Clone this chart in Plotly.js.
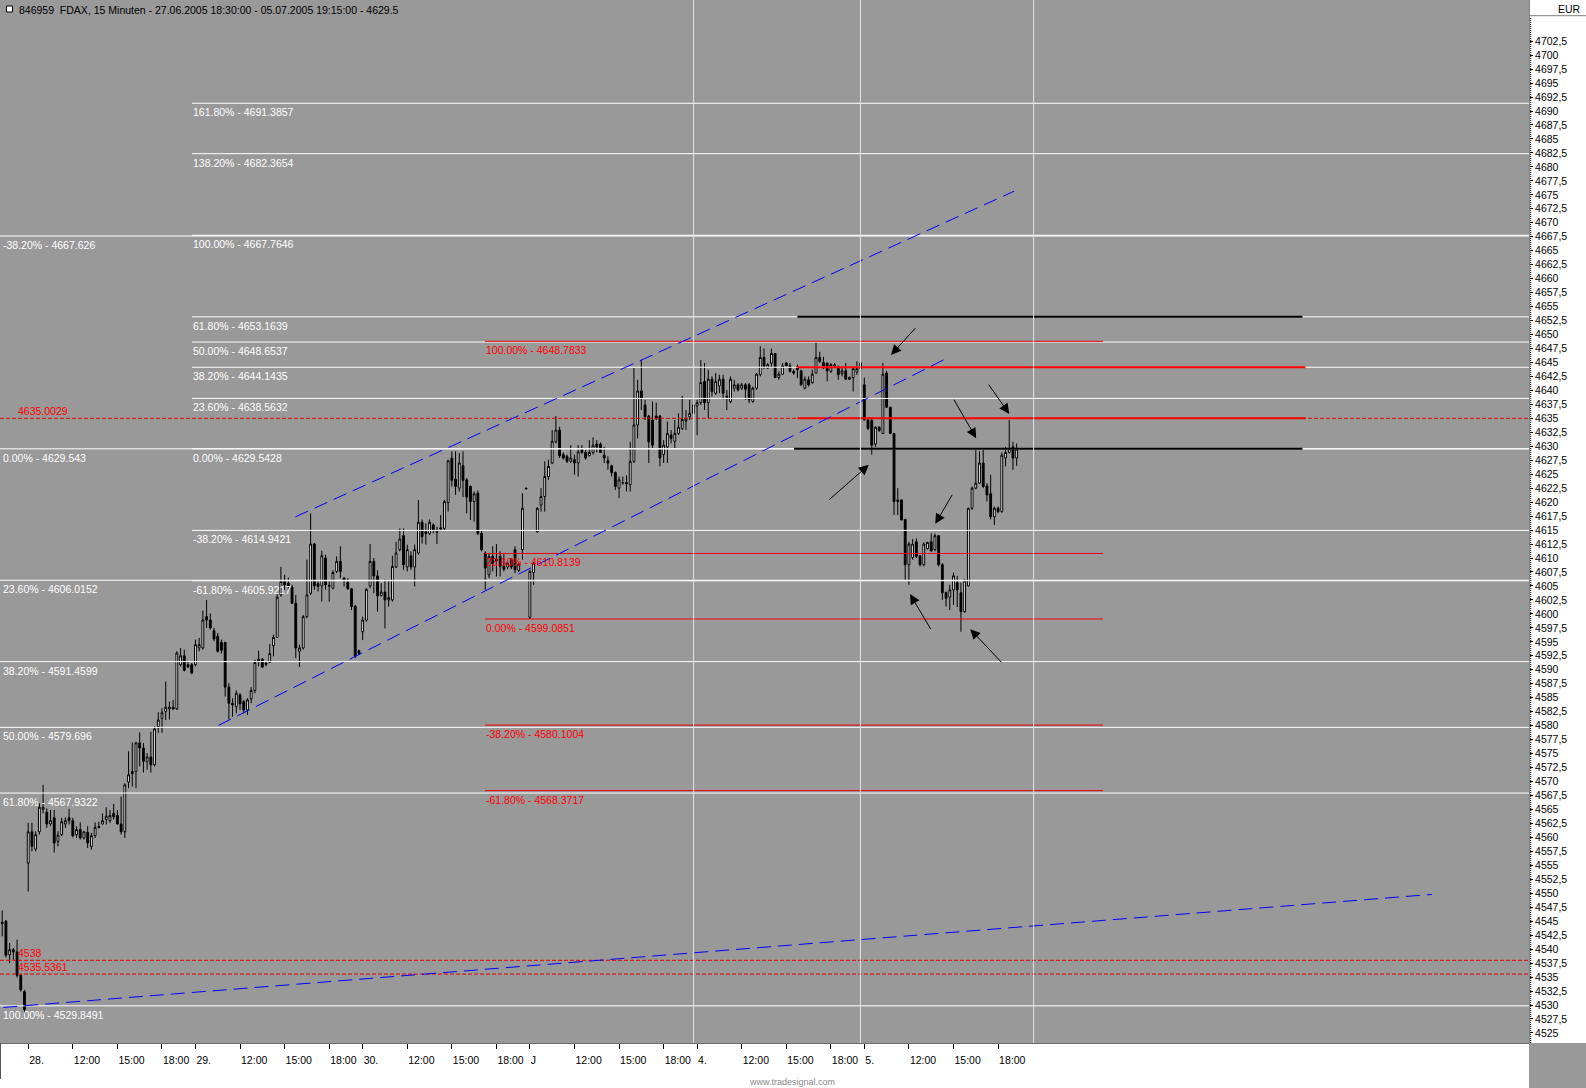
<!DOCTYPE html>
<html>
<head>
<meta charset="utf-8">
<script src="https://cdn.plot.ly/plotly-3.0.1.min.js"></script>
<style>
  html, body { margin: 0; padding: 0; background: #fff; }
  #chart { width: 1586px; height: 1088px; }
</style>
</head>
<body>
<div id="chart"></div>
<script>
// FDAX 15 min bars, 27.06.2005 18:30 - 05.07.2005 19:15 (45 bars per session)
const opens = [
  4544.8, 4545.0, 4539.0, 4539.9, 4539.5, 4535.3, 4532.4, 4555.4, 4561.0, 4557.9,
  4561.0, 4565.0, 4564.5, 4562.4, 4563.5, 4559.3, 4560.5, 4562.4, 4563.5, 4563.0,
  4560.5, 4561.4, 4559.9, 4560.9, 4558.4, 4560.3, 4561.9, 4562.4, 4563.2, 4563.0,
  4564.3, 4563.9, 4562.4, 4561.0, 4569.9, 4571.8, 4571.8, 4576.9, 4576.0, 4573.6,
  4574.4, 4573.0, 4579.8, 4581.3, 4582.5, 4583.0, 4583.3, 4583.0, 4590.9, 4592.5,
  4590.9, 4590.9, 4590.9, 4593.9, 4593.9, 4599.5, 4598.9, 4597.0, 4596.0, 4594.9,
  4594.9, 4586.9, 4584.0, 4583.4, 4585.5, 4584.3, 4582.8, 4584.8, 4586.3, 4591.5,
  4591.9, 4591.2, 4591.3, 4594.3, 4595.8, 4603.4, 4605.8, 4605.5, 4604.8, 4601.9,
  4593.3, 4593.9, 4599.5, 4603.7, 4612.5, 4605.4, 4605.0, 4610.0, 4605.1, 4604.6,
  4607.6, 4609.4, 4606.4, 4605.6, 4604.5, 4601.4, 4593.4, 4596.8, 4598.9, 4605.0,
  4609.4, 4606.8, 4603.3, 4603.9, 4602.5, 4602.5, 4608.4, 4611.5, 4614.0, 4608.4,
  4610.4, 4608.4, 4610.9, 4616.4, 4614.7, 4614.4, 4615.9, 4614.6, 4615.4, 4615.3,
  4619.9, 4627.9, 4624.1, 4622.5, 4626.5, 4624.0, 4622.8, 4620.1, 4621.6, 4614.4,
  4610.9, 4607.0, 4610.3, 4609.8, 4610.3, 4608.5, 4608.4, 4609.7, 4611.5, 4607.8,
  4611.5, 4622.5, 4599.4, 4607.4, 4614.7, 4619.5, 4621.0, 4624.6, 4627.0, 4630.8,
  4632.9, 4628.5, 4628.2, 4627.3, 4627.6, 4627.0, 4629.4, 4628.9, 4628.3, 4628.9,
  4630.4, 4630.4, 4628.4, 4627.4, 4626.5, 4625.3, 4622.5, 4623.4, 4623.5, 4623.1,
  4627.3, 4633.8, 4639.9, 4637.4, 4635.4, 4634.7, 4635.4, 4635.4, 4628.5, 4629.9,
  4632.0, 4630.9, 4632.3, 4633.2, 4634.5, 4635.3, 4635.9, 4637.2, 4637.8, 4641.6,
  4637.8, 4642.0, 4639.5, 4640.8, 4642.0, 4639.0, 4638.0, 4640.4, 4641.0, 4640.4,
  4641.0, 4641.0, 4638.0, 4640.4, 4642.8, 4645.9, 4644.0, 4644.9, 4646.6, 4642.3,
  4642.9, 4644.9, 4644.4, 4643.4, 4644.3, 4643.5, 4640.4, 4641.9, 4641.4, 4643.1,
  4645.9, 4645.0, 4644.9, 4643.4, 4644.3, 4644.3, 4643.0, 4643.5, 4642.0, 4642.3,
  4643.3, 4643.9, 4641.0, 4634.7, 4634.6, 4630.4, 4633.4, 4632.3, 4643.1, 4637.0,
  4632.3, 4620.1, 4620.4, 4616.9, 4608.8, 4610.1, 4612.9, 4610.4, 4608.8, 4611.7,
  4612.9, 4611.5, 4614.0, 4608.8, 4603.8, 4603.0, 4604.3, 4605.6, 4603.8, 4600.4,
  4605.0, 4618.9, 4622.5, 4623.4, 4627.0, 4622.9, 4621.5, 4617.4, 4618.9, 4618.3,
  4627.9, 4628.9, 4629.9, 4627.9
];
const highs = [
  4546.9, 4545.2, 4541.1, 4540.2, 4541.7, 4535.5, 4532.7, 4562.6, 4562.6, 4561.1,
  4566.1, 4569.4, 4565.2, 4564.9, 4564.9, 4561.1, 4563.5, 4563.6, 4565.1, 4563.5,
  4562.0, 4562.7, 4561.1, 4562.0, 4560.8, 4562.7, 4562.8, 4564.3, 4565.4, 4564.9,
  4566.0, 4564.9, 4567.3, 4569.7, 4575.4, 4577.0, 4577.1, 4578.8, 4576.9, 4575.1,
  4578.9, 4579.9, 4582.4, 4583.1, 4587.9, 4584.3, 4584.6, 4593.3, 4593.9, 4593.6,
  4591.5, 4591.2, 4595.4, 4595.7, 4600.6, 4602.5, 4600.1, 4597.5, 4596.6, 4595.4,
  4595.0, 4587.6, 4584.9, 4586.3, 4585.8, 4584.6, 4584.9, 4586.9, 4591.8, 4593.4,
  4592.1, 4591.5, 4594.6, 4596.3, 4603.7, 4608.4, 4607.0, 4606.5, 4605.2, 4603.4,
  4594.5, 4599.8, 4609.7, 4618.0, 4612.7, 4606.1, 4611.3, 4610.6, 4606.1, 4607.8,
  4610.3, 4612.1, 4606.6, 4606.4, 4604.6, 4601.6, 4593.6, 4599.5, 4604.6, 4612.5,
  4610.0, 4607.8, 4605.5, 4606.2, 4606.1, 4610.4, 4612.9, 4615.3, 4615.3, 4612.4,
  4611.2, 4612.4, 4620.4, 4616.9, 4616.2, 4616.9, 4616.2, 4615.6, 4617.7, 4620.4,
  4627.6, 4629.1, 4629.1, 4628.8, 4629.1, 4624.3, 4623.0, 4621.9, 4622.1, 4615.0,
  4611.2, 4610.9, 4612.1, 4612.5, 4611.2, 4610.9, 4609.4, 4610.0, 4612.1, 4609.2,
  4621.6, 4622.6, 4607.9, 4609.3, 4619.1, 4622.5, 4627.3, 4627.6, 4632.9, 4635.4,
  4633.5, 4628.9, 4628.5, 4630.2, 4628.5, 4630.2, 4630.2, 4629.4, 4631.1, 4631.6,
  4631.1, 4630.7, 4629.9, 4628.2, 4626.7, 4625.5, 4624.6, 4624.6, 4624.8, 4630.8,
  4644.0, 4641.9, 4645.5, 4638.3, 4635.6, 4638.0, 4637.8, 4635.6, 4631.1, 4634.4,
  4632.9, 4634.7, 4635.9, 4639.0, 4636.5, 4638.3, 4638.4, 4638.3, 4645.4, 4644.9,
  4643.7, 4642.5, 4643.1, 4642.8, 4642.8, 4640.1, 4642.5, 4641.9, 4641.3, 4641.3,
  4641.3, 4641.3, 4640.7, 4643.1, 4647.9, 4647.5, 4644.9, 4647.5, 4646.7, 4643.4,
  4644.9, 4645.0, 4644.9, 4643.7, 4644.6, 4643.7, 4642.5, 4642.5, 4643.7, 4648.6,
  4646.9, 4646.0, 4644.9, 4644.9, 4644.9, 4644.4, 4644.3, 4644.9, 4642.5, 4644.3,
  4645.2, 4645.2, 4642.3, 4635.0, 4635.0, 4633.6, 4633.6, 4644.9, 4643.5, 4637.0,
  4632.3, 4622.5, 4620.4, 4616.9, 4612.9, 4613.4, 4613.5, 4610.4, 4612.8, 4612.9,
  4614.4, 4614.4, 4614.0, 4609.1, 4604.0, 4605.2, 4607.4, 4606.8, 4605.6, 4606.2,
  4619.0, 4622.8, 4629.3, 4629.1, 4629.3, 4623.4, 4624.9, 4619.2, 4619.2, 4628.9,
  4629.9, 4634.7, 4630.8, 4630.5
];
const lows = [
  4542.3, 4538.5, 4537.5, 4538.1, 4534.9, 4532.4, 4528.5, 4550.3, 4557.5, 4557.5,
  4560.5, 4564.3, 4561.7, 4562.0, 4557.3, 4558.4, 4560.2, 4561.7, 4562.3, 4560.0,
  4559.9, 4559.6, 4559.6, 4558.1, 4557.8, 4559.9, 4561.6, 4562.3, 4562.3, 4562.6,
  4563.2, 4562.3, 4560.5, 4559.9, 4568.8, 4569.1, 4568.8, 4572.7, 4571.6, 4572.1,
  4571.6, 4572.7, 4578.7, 4578.7, 4581.0, 4581.1, 4582.8, 4582.8, 4590.6, 4589.7,
  4590.3, 4589.2, 4590.6, 4593.3, 4593.6, 4597.5, 4597.2, 4595.1, 4593.1, 4592.9,
  4585.2, 4581.1, 4581.6, 4582.2, 4582.8, 4582.2, 4581.9, 4584.0, 4585.8, 4590.6,
  4590.3, 4590.6, 4591.2, 4592.4, 4595.7, 4603.1, 4604.3, 4604.3, 4601.8, 4592.1,
  4590.5, 4593.6, 4599.2, 4603.4, 4604.3, 4604.0, 4602.2, 4604.3, 4602.2, 4604.4,
  4607.3, 4606.4, 4604.9, 4604.3, 4600.7, 4592.1, 4592.7, 4595.3, 4598.6, 4604.6,
  4603.7, 4600.4, 4603.1, 4597.4, 4601.3, 4602.2, 4608.2, 4611.2, 4607.9, 4607.6,
  4607.9, 4604.9, 4610.6, 4612.6, 4612.4, 4614.1, 4614.4, 4612.5, 4615.0, 4615.0,
  4618.3, 4622.8, 4621.3, 4621.9, 4620.9, 4618.0, 4616.8, 4616.5, 4614.1, 4611.2,
  4604.3, 4606.4, 4607.6, 4606.7, 4606.7, 4607.6, 4608.0, 4608.0, 4607.3, 4607.5,
  4609.7, 4622.3, 4599.1, 4605.2, 4614.5, 4618.3, 4618.3, 4624.0, 4626.8, 4630.5,
  4627.9, 4627.6, 4627.0, 4627.0, 4624.9, 4624.6, 4628.6, 4627.6, 4628.2, 4628.5,
  4628.9, 4628.8, 4627.0, 4625.8, 4624.6, 4622.2, 4620.7, 4623.1, 4621.9, 4621.9,
  4627.0, 4631.4, 4636.5, 4634.7, 4627.0, 4629.6, 4634.7, 4626.4, 4627.0, 4627.0,
  4630.5, 4629.6, 4632.0, 4632.9, 4632.9, 4634.7, 4634.7, 4632.0, 4637.4, 4636.5,
  4635.0, 4638.9, 4639.2, 4639.5, 4638.4, 4636.5, 4637.7, 4639.8, 4639.8, 4640.1,
  4638.3, 4637.7, 4637.8, 4640.1, 4642.5, 4643.8, 4643.8, 4644.0, 4642.2, 4641.9,
  4642.8, 4644.3, 4643.2, 4642.8, 4642.2, 4640.8, 4640.2, 4640.7, 4641.2, 4643.0,
  4644.9, 4643.8, 4641.6, 4643.1, 4644.0, 4641.9, 4642.5, 4641.9, 4641.9, 4639.8,
  4642.8, 4637.8, 4634.7, 4632.9, 4628.5, 4629.9, 4632.6, 4632.2, 4636.9, 4632.2,
  4617.7, 4617.7, 4616.8, 4606.1, 4605.2, 4609.7, 4610.0, 4608.5, 4608.5, 4611.5,
  4611.1, 4611.2, 4608.5, 4602.5, 4601.3, 4600.7, 4601.6, 4601.2, 4596.8, 4600.2,
  4604.9, 4618.6, 4622.3, 4623.3, 4622.5, 4620.1, 4616.9, 4615.9, 4618.0, 4618.1,
  4626.4, 4628.7, 4625.8, 4626.5
];
const closes = [
  4544.6, 4538.9, 4539.9, 4539.5, 4535.3, 4532.7, 4529.2, 4561.0, 4558.4, 4560.5,
  4565.4, 4565.4, 4562.4, 4563.0, 4559.0, 4560.4, 4562.8, 4563.0, 4563.0, 4560.3,
  4561.4, 4559.9, 4561.0, 4559.0, 4560.3, 4561.8, 4561.8, 4563.0, 4563.8, 4563.9,
  4563.7, 4562.4, 4561.0, 4569.4, 4571.2, 4571.4, 4576.9, 4576.0, 4573.6, 4574.4,
  4573.0, 4579.4, 4581.0, 4582.3, 4583.3, 4583.3, 4583.0, 4593.0, 4592.5, 4589.9,
  4590.5, 4589.4, 4594.5, 4594.5, 4598.9, 4598.9, 4597.5, 4595.5, 4593.3, 4593.5,
  4586.9, 4584.0, 4583.7, 4585.8, 4583.9, 4582.8, 4584.6, 4586.3, 4591.3, 4591.9,
  4590.5, 4591.0, 4592.9, 4595.8, 4603.0, 4605.8, 4605.2, 4604.9, 4601.9, 4593.9,
  4593.9, 4599.5, 4603.4, 4612.5, 4605.0, 4604.9, 4610.4, 4605.2, 4605.0, 4607.4,
  4609.4, 4607.6, 4606.0, 4604.5, 4601.3, 4592.4, 4592.9, 4598.9, 4604.4, 4609.4,
  4606.8, 4603.2, 4603.9, 4602.5, 4602.9, 4608.5, 4610.9, 4613.4, 4608.8, 4611.5,
  4608.4, 4611.5, 4616.4, 4613.8, 4614.4, 4616.4, 4615.0, 4615.0, 4615.2, 4620.1,
  4627.4, 4623.9, 4622.8, 4627.0, 4623.9, 4620.9, 4620.1, 4621.5, 4614.4, 4611.5,
  4608.2, 4610.3, 4609.0, 4609.5, 4608.5, 4608.0, 4609.1, 4608.4, 4607.9, 4608.9,
  4618.9, 4622.4, 4607.6, 4609.1, 4618.9, 4621.0, 4624.6, 4626.4, 4630.9, 4632.9,
  4628.3, 4627.9, 4627.3, 4627.9, 4627.0, 4629.0, 4628.9, 4627.9, 4628.9, 4630.2,
  4629.9, 4628.9, 4627.9, 4627.0, 4625.3, 4622.8, 4624.0, 4623.5, 4623.3, 4627.3,
  4633.8, 4639.9, 4638.6, 4635.3, 4630.8, 4630.2, 4635.0, 4627.9, 4630.2, 4632.3,
  4631.4, 4632.3, 4633.4, 4634.8, 4634.9, 4635.9, 4637.4, 4637.8, 4641.4, 4637.8,
  4642.0, 4639.8, 4641.6, 4642.0, 4639.5, 4638.8, 4642.0, 4641.0, 4640.1, 4641.0,
  4640.2, 4638.3, 4640.4, 4642.9, 4645.9, 4644.3, 4644.6, 4646.6, 4642.3, 4642.9,
  4644.4, 4644.4, 4643.4, 4643.1, 4643.7, 4641.0, 4642.0, 4641.0, 4642.9, 4645.9,
  4645.2, 4644.3, 4643.5, 4644.6, 4644.6, 4642.8, 4643.5, 4642.0, 4642.3, 4643.9,
  4643.9, 4644.9, 4634.7, 4633.2, 4630.2, 4633.4, 4632.8, 4642.9, 4637.0, 4632.3,
  4620.1, 4620.4, 4616.8, 4608.8, 4612.5, 4612.5, 4610.3, 4608.8, 4612.5, 4612.8,
  4611.3, 4614.0, 4608.8, 4603.8, 4602.8, 4604.3, 4606.8, 4604.3, 4600.4, 4605.9,
  4618.9, 4622.5, 4623.4, 4627.0, 4622.8, 4621.3, 4617.4, 4618.9, 4618.3, 4628.4,
  4628.9, 4629.6, 4627.9, 4629.5
];

// time axis: bar index of each labelled tick
const tickBars   = [7, 19, 31, 43, 52, 64, 76, 88, 97, 109, 121, 133, 142, 154, 166, 178, 187, 199, 211, 223, 232, 244, 256, 268];
const tickLabels = ['28.', '12:00', '15:00', '18:00', '29.', '12:00', '15:00', '18:00', '30.', '12:00', '15:00', '18:00',
                    'J', '12:00', '15:00', '18:00', '4.', '12:00', '15:00', '18:00', '5.', '12:00', '15:00', '18:00'];

// price scale: first / last labelled price and step
const priceTickFirst = 4525;
const priceTickLast  = 4702.5;
const priceTickStep  = 2.5;

// fibonacci tools
const leftFibPct    = ['-38.20%', '0.00%', '23.60%', '38.20%', '50.00%', '61.80%', '100.00%'];
const leftFibPrice  = [4667.626, 4629.543, 4606.0152, 4591.4599, 4579.696, 4567.9322, 4529.8491];
const rightFibPct   = ['161.80%', '138.20%', '100.00%', '61.80%', '50.00%', '38.20%', '23.60%', '0.00%', '-38.20%', '-61.80%'];
const rightFibPrice = [4691.3857, 4682.3654, 4667.7646, 4653.1639, 4648.6537, 4644.1435, 4638.5632, 4629.5428, 4614.9421, 4605.9217];
const redFibPct     = ['100.00%', '23.60%', '0.00%', '-38.20%', '-61.80%'];
const redFibPrice   = [4648.7833, 4610.8139, 4599.0851, 4580.1004, 4568.3717];

// horizontal dashed levels
const dashedLevels = [4635.0029, 4538, 4535.5361];

// trend lines (bar index / price)
const trendX0 = [78.9, 58.2, 0.3];
const trendP0 = [4617.37, 4580.04, 4529.57];
const trendX1 = [272.3, 254.2, 384.8];
const trendP1 = [4675.64, 4645.76, 4549.80];

// support / resistance zone lines
const zoneLevel  = [4653.16, 4644.14, 4635.0, 4629.54];
const zoneColor  = ['#000000', '#ff0000', '#ff0000', '#000000'];
const zoneStart  = [214.0, 214.0, 214.0, 213.1];
const zoneEnd    = [349.9, 350.7, 350.7, 349.9];

// session separators
const sessionLines = [186.06, 230.95, 277.56];

// arrows: head -> tail
const arrowHeadX = [239.2, 233.2, 262.1, 271.0, 251.1, 244.3, 260.5];
const arrowHeadP = [4646.35, 4626.67, 4631.45, 4635.79, 4616.11, 4603.54, 4597.27];
const arrowTailX = [246.1, 222.2, 255.9, 265.2, 255.9, 250.1, 269.3];
const arrowTailP = [4651.41, 4620.23, 4638.6, 4641.29, 4621.6, 4597.02, 4591.06];

const W = 1529, H = 1043;      // plot area in px
const FONT = 'Liberation Sans, Arial, sans-serif';
const px = x => x / W;
const py = y => 1 - y / H;

let barIdx = []
for (let i = 0; i < opens.length; i++) barIdx.push(i)

// price labels use a comma as decimal mark, no grouping
let priceTicks = []
let priceText = []
for (let v = priceTickFirst; v <= priceTickLast; v += priceTickStep) {
  priceTicks.push(v)
  priceText.push(String(v).replace('.', ','))
}

let candles = {
  type: 'candlestick',
  x: barIdx, open: opens, high: highs, low: lows, close: closes,
  increasing: { line: { color: '#000', width: 1 }, fillcolor: '#ffffff' },
  decreasing: { line: { color: '#000', width: 1 }, fillcolor: '#000000' },
  whiskerwidth: 0,
  hoverinfo: 'skip',
  showlegend: false
}

let shapes = []
let annotations = []

function hline(xref, x0, x1, y, color, width, dash) {
  shapes.push({ type: 'line', xref: xref, yref: 'y', x0: x0, x1: x1, y0: y, y1: y,
                line: { color: color, width: width, dash: dash || 'solid' } })
}
function label(x, y, text, color, shift) {
  annotations.push({ xref: 'paper', yref: 'y', x: x, y: y, text: text, showarrow: false,
                     xanchor: 'left', yanchor: 'middle', yshift: shift,
                     font: { family: FONT, size: 10.5, color: color } })
}

leftFibPrice.forEach((p, k) => {
  hline('paper', 0, 1, p, '#ffffff', 1)
  label(px(1), p, leftFibPct[k] + ' - ' + p, '#ffffff', -9)
})
rightFibPrice.forEach((p, k) => {
  hline('paper', px(192), 1, p, '#ffffff', 1)
  label(px(191), p, rightFibPct[k] + ' - ' + p, '#ffffff', -9)
})
redFibPrice.forEach((p, k) => {
  hline('paper', px(485), px(1103), p, '#f00000', 1)
  label(px(484), p, redFibPct[k] + ' - ' + p, '#ff0000', -9)
})
dashedLevels.forEach(p => {
  hline('paper', 0, 1, p, '#e00000', 1, '4px,2px')
  label(px(15.5), p, String(p), '#ff0000', 7)
})
zoneLevel.forEach((p, k) => hline('x', zoneStart[k], zoneEnd[k], p, zoneColor[k], 2))

trendX0.forEach((x, k) => {
  shapes.push({ type: 'line', xref: 'x', yref: 'y', x0: x, y0: trendP0[k], x1: trendX1[k], y1: trendP1[k],
                line: { color: '#0000ff', width: 1, dash: '14px,7px' } })
})
sessionLines.forEach(x => {
  shapes.push({ type: 'line', xref: 'x', yref: 'paper', x0: x, x1: x, y0: 0, y1: 1,
                line: { color: '#e4e4e4', width: 1 } })
})

arrowHeadX.forEach((x, k) => {
  annotations.push({ xref: 'x', yref: 'y', axref: 'x', ayref: 'y', x: x, y: arrowHeadP[k],
                     ax: arrowTailX[k], ay: arrowTailP[k], text: '', showarrow: true,
                     arrowhead: 2, arrowsize: 2, arrowwidth: 1, arrowcolor: '#000', standoff: 0 })
})

// frame pieces around the plot
shapes.push({ type: 'rect', xref: 'paper', yref: 'paper', x0: 1, x1: 1586 / W, y0: -45 / H, y1: 0,
              fillcolor: '#999999', line: { width: 0 } })
shapes.push({ type: 'line', xref: 'paper', yref: 'paper', x0: 1530 / W, x1: 1586 / W, y0: py(15.7), y1: py(15.7),
              line: { color: '#808080', width: 1 } })
shapes.push({ type: 'line', xref: 'paper', yref: 'paper', x0: 1530.7 / W, x1: 1530.7 / W, y0: py(18), y1: 0,
              line: { color: '#000', width: 1, dash: '1px,1px' } })
shapes.push({ type: 'line', xref: 'paper', yref: 'paper', x0: px(0.5), x1: px(0.5), y0: 0, y1: -36 / H,
              line: { color: '#555', width: 1 } })
shapes.push({ type: 'rect', xref: 'paper', yref: 'paper', x0: px(6.5), x1: px(12.5), y0: py(12), y1: py(6),
              fillcolor: '#ffffff', line: { color: '#000', width: 1 } })

annotations.push({ xref: 'paper', yref: 'paper', x: px(17), y: py(10), xanchor: 'left', yanchor: 'middle',
                   text: '846959\u00a0 FDAX, 15 Minuten - 27.06.2005 18:30:00 - 05.07.2005 19:15:00 - 4629.5',
                   showarrow: false, font: { family: FONT, size: 10.5, color: '#000' } })
annotations.push({ xref: 'paper', yref: 'paper', x: 1583 / W, y: py(8.5), xanchor: 'right', yanchor: 'middle',
                   text: 'EUR', showarrow: false, font: { family: FONT, size: 10.5, color: '#000' } })
annotations.push({ xref: 'paper', yref: 'paper', x: px(792), y: py(1082), xanchor: 'center', yanchor: 'middle',
                   text: 'www.tradesignal.com', showarrow: false, font: { family: FONT, size: 9, color: '#888' } })

let layout = {
  width: 1586, height: 1088, autosize: false,
  margin: { l: 0, r: 57, t: 0, b: 45, pad: 0 },
  paper_bgcolor: '#ffffff', plot_bgcolor: '#999999',
  showlegend: false,
  xaxis: {
    range: [-0.592, 410.87], fixedrange: true,
    tickvals: tickBars, ticktext: tickLabels,
    ticks: 'outside', ticklen: 5, tickcolor: '#000', tickwidth: 1,
    ticklabelposition: 'outside right', ticklabelstandoff: 7,
    tickfont: { family: FONT, size: 10.5, color: '#000' },
    showgrid: false, zeroline: false, showline: true, linecolor: '#6e6e6e', linewidth: 1,
    rangeslider: { visible: false }
  },
  yaxis: {
    side: 'right', range: [4523.2, 4709.87], fixedrange: true,
    tickmode: 'array', tickvals: priceTicks, ticktext: priceText,
    ticks: 'outside', ticklen: 3, tickcolor: '#000', tickwidth: 1,
    tickfont: { family: FONT, size: 10.5, color: '#000' },
    showgrid: false, zeroline: false, showline: true, linecolor: '#808080', linewidth: 1
  },
  shapes: shapes,
  annotations: annotations
}

Plotly.newPlot('chart', [candles], layout, { staticPlot: true, displayModeBar: false })
</script>
</body>
</html>
